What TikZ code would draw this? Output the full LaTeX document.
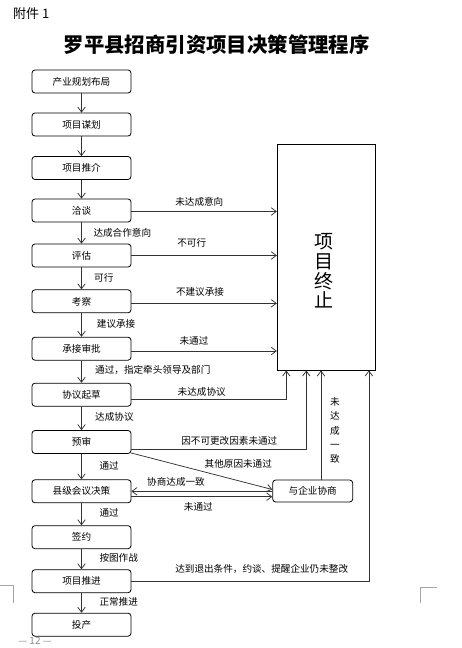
\documentclass[tikz,border=0pt]{standalone}
\usepackage{fontspec}
\setmainfont{Noto Sans CJK SC}
\newfontfamily\cjk{Noto Sans CJK SC}
\usetikzlibrary{arrows.meta,calc}
\tikzset{
  x=1pt,y=-1pt,
  stepbox/.style={draw=black,line width=0.8pt,rounded corners=3pt,fill=white,
    minimum width=99pt,minimum height=23pt,inner sep=0pt,font=\cjk\fontsize{9.6}{11}\selectfont},
  lbl/.style={inner sep=0pt,font=\cjk\fontsize{9.6}{11}\selectfont},
  arr/.style={draw=black!80,line width=0.75pt,-{Straight Barb[length=5pt,width=7.5pt]}},
  cornermark/.style={draw=black!35,line width=0.6pt}
}
\begin{document}
\begin{tikzpicture}
\useasboundingbox (0,0) rectangle (461,648);
% header
\node[lbl,anchor=west,font=\cjk\fontsize{13}{15}\selectfont] (att) at (13,14) {附件 1};
\node[inner sep=0pt,font=\cjk\bfseries\fontsize{20.4}{22}\selectfont] (title) at (216.7,45) {罗平县招商引资项目决策管理程序};
% page number and corner marks
\node[inner sep=0pt,text=black!45,font=\fontsize{10}{11}\selectfont] (pnum) at (35,641) {— 12 —};
\coordinate (cmL1) at (0,585.7); \coordinate (cmL2) at (13.3,585.7); \coordinate (cmL3) at (13.3,603);
\draw[cornermark] (cmL1) -- (cmL2) -- (cmL3);
\coordinate (cmR1) at (436.7,587.3); \coordinate (cmR2) at (420,587.3); \coordinate (cmR3) at (420,603.3);
\draw[cornermark] (cmR1) -- (cmR2) -- (cmR3);
% left column
\node[stepbox] (b1) at (81.5,81.5) {产业规划布局};
\node[stepbox] (b2) at (81.5,124.5) {项目谋划};
\node[stepbox] (b3) at (81.5,168) {项目推介};
\node[stepbox] (b4) at (81.5,210.5) {洽谈};
\node[stepbox] (b5) at (81.5,255.5) {评估};
\node[stepbox] (b6) at (81.5,301.3) {考察};
\node[stepbox] (b7) at (81.5,348.7) {承接审批};
\node[stepbox] (b8) at (81.5,394.7) {协议起草};
\node[stepbox] (b9) at (81.5,442) {预审};
\node[stepbox] (b10) at (81.5,491.3) {县级会议决策};
\node[stepbox] (b11) at (81.5,537.2) {签约};
\node[stepbox] (b12) at (81.5,581.2) {项目推进};
\node[stepbox] (b13) at (81.5,624.7) {投产};
% terminate box
\node[draw=black,line width=0.8pt,minimum width=98pt,minimum height=225.7pt,inner sep=0pt] (term) at (326.3,257.2) {};
\node[inner sep=0pt,align=center,font=\cjk\fontsize{19}{19.6}\selectfont] (termtext) at (324,271) {项\\目\\终\\止};
% negotiate box
\node[stepbox,minimum width=80pt,minimum height=22pt] (neg) at (312.7,491) {与企业协商};
% vertical arrows
\foreach \a/\b in {b1/b2,b2/b3,b3/b4,b4/b5,b5/b6,b6/b7,b7/b8,b8/b9,b9/b10,b10/b11,b11/b12,b12/b13}
  \draw[arr] (\a.south) -- (\b.north);
% labels of vertical arrows
\node[lbl,anchor=west] (l45) at (93.3,233.3) {达成合作意向};
\node[lbl,anchor=west] (l56) at (94,278.3) {可行};
\node[lbl,anchor=west] (l67) at (96.7,324) {建议承接};
\node[lbl,anchor=west] (l78) at (95,370) {通过，指定牵头领导及部门};
\node[lbl,anchor=west] (l89) at (95,416.7) {达成协议};
\node[lbl,anchor=west] (l910) at (99.3,466) {通过};
\node[lbl,anchor=west] (l1011) at (99.3,513.3) {通过};
\node[lbl,anchor=west] (l1112) at (99.3,557.7) {按图作战};
\node[lbl,anchor=west] (l1213) at (99.3,601.7) {正常推进};
% arrows into terminate box
\draw[arr] ([yshift=-1pt]b4.east) -- ([yshift=-1pt]b4.east -| term.west);
\node[lbl] (r4) at (199.3,201.7) {未达成意向};
\draw[arr] (b5.east) -- (b5.east -| term.west);
\node[lbl] (r5) at (191.7,242.7) {不可行};
\draw[arr] ([yshift=-2pt]b6.east) -- ([yshift=-2pt]b6.east -| term.west);
\node[lbl] (r6) at (200,292.3) {不建议承接};
\draw[arr] ([yshift=-2.3pt]b7.east) -- ([yshift=-2.3pt]b7.east -| term.west);
\node[lbl] (r7) at (194,341) {未通过};
% 协议起草
\coordinate (t1) at ([xshift=9.4pt]term.south west);
\draw[arr] ([yshift=-4.3pt]b8.east) -| (t1);
\node[lbl] (r8) at (201.7,391.7) {未达成协议};
% 预审
\coordinate (t2) at ([xshift=29.4pt]term.south west);
\draw[arr] ([yshift=-7.3pt]b9.east) -| (t2);
\node[lbl] (r9) at (229.3,440.7) {因不可更改因素未通过};
\draw[arr] ([xshift=-0.5pt,yshift=1pt]b9.south east) -- ([yshift=1.5pt]neg.west);
\node[lbl] (r9b) at (238.3,464.3) {其他原因未通过};
% double lines between decision and negotiation
\draw[arr] ([yshift=-0.3pt]neg.west) -- ([yshift=-0.3pt]neg.west -| b10.east);
\node[lbl] (rn1) at (176,482.3) {协商达成一致};
\draw[arr] ([yshift=-5.4pt]b10.east) -- ([yshift=-5.4pt]b10.east -| neg.west);
\node[lbl] (rn2) at (198.3,507.3) {未通过};
% negotiation up to terminate
\coordinate (n1) at ([xshift=8.3pt]neg.north);
\draw[arr] (n1) -- (n1 |- term.south);
\node[lbl,align=center,font=\cjk\fontsize{9.6}{14.4}\selectfont] (rn3) at (335,430.5) {未\\达\\成\\一\\致};
% 项目推进
\coordinate (t4) at ([xshift=92pt]term.south west);
\draw[arr] ([yshift=-0.3pt]b12.east) -| (t4);
\node[lbl] (r12) at (261.7,569.3) {达到退出条件，约谈、提醒企业仍未整改};
\end{tikzpicture}
\end{document}
